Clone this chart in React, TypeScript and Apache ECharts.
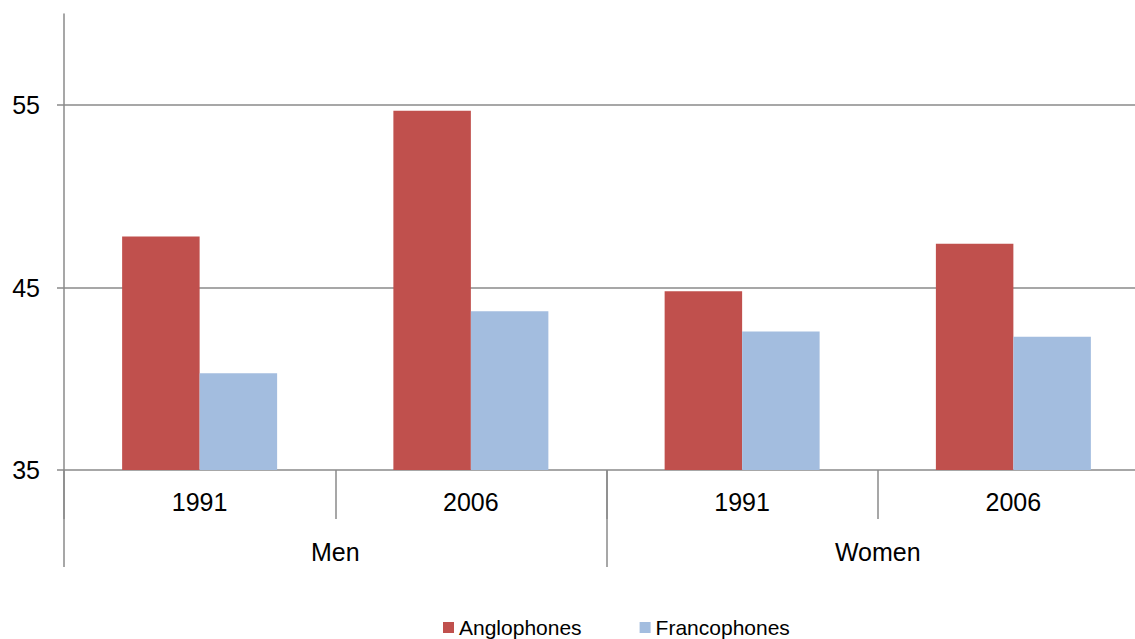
import React, { useEffect, useRef } from "react";
import * as echarts from "echarts";

const years = ["1991", "2006", "1991", "2006"];
const groups = ["Men", "Women"];
const seriesNames = ["Anglophones", "Francophones"];
const anglophones = [47.8, 54.7, 44.8, 47.4];
const francophones = [40.3, 43.7, 42.6, 42.3];
const yTicks = [35, 45, 55];
const gridValues = [45, 55];

const FONT = "'Liberation Sans', Arial, sans-serif";
const AXIS_GRAY = "#8a8a8a";

export default function App() {
  const ref = useRef<HTMLDivElement>(null);
  useEffect(() => {
    if (!ref.current) return;
    const chart = echarts.init(ref.current, undefined, { renderer: "svg" });
    chart.setOption({
      animation: false,
      textStyle: { fontFamily: FONT },
      grid: { left: 64, top: 14, width: 1085, height: 456, containLabel: false },
      legend: {
        data: seriesNames,
        left: 438,
        top: 612,
        icon: "rect",
        itemWidth: 11,
        itemHeight: 11,
        itemGap: 58,
        textStyle: { fontSize: 21, color: "#000", fontFamily: FONT },
      },
      xAxis: [
        {
          type: "category",
          data: years,
          position: "bottom",
          axisLine: { show: true, lineStyle: { color: AXIS_GRAY, width: 1.5 } },
          axisTick: { show: true, length: 49, lineStyle: { color: AXIS_GRAY, width: 1.5 } },
          axisLabel: { margin: 19, fontSize: 25, color: "#000", fontFamily: FONT, interval: 0 },
          splitLine: { show: false },
        },
        {
          type: "category",
          data: groups,
          position: "bottom",
          axisLine: { show: false },
          axisTick: { show: true, length: 97, lineStyle: { color: AXIS_GRAY, width: 1.5 } },
          axisLabel: { margin: 69, fontSize: 25, color: "#000", fontFamily: FONT, interval: 0 },
          splitLine: { show: false },
        },
      ],
      yAxis: {
        type: "value",
        min: 35,
        max: 60,
        interval: 10,
        axisLine: { show: true, lineStyle: { color: AXIS_GRAY, width: 1.5 } },
        axisTick: { show: true, length: 7, customValues: yTicks, lineStyle: { color: AXIS_GRAY, width: 1.5 } },
        axisLabel: { margin: 24, fontSize: 25, color: "#000", fontFamily: FONT, customValues: yTicks },
        splitLine: { show: false },
      },
      series: [
        {
          name: seriesNames[0],
          type: "bar",
          xAxisIndex: 0,
          data: anglophones,
          barGap: "0%",
          barCategoryGap: "42.86%",
          itemStyle: { color: "#C0504D" },
          markLine: {
            silent: true,
            symbol: "none",
            label: { show: false },
            lineStyle: { color: AXIS_GRAY, width: 1.5, type: "solid" },
            data: gridValues.map((v) => ({ yAxis: v })),
            z: 0,
          },
        },
        {
          name: seriesNames[1],
          type: "bar",
          xAxisIndex: 0,
          data: francophones,
          barGap: "0%",
          barCategoryGap: "42.86%",
          itemStyle: { color: "#A3BDDF" },
        },
      ],
    });
    return () => chart.dispose();
  }, []);
  return (
    <div
      style={{ position: "fixed", left: 0, top: 0, width: 1135, height: 639, overflow: "hidden", background: "#fff" }}
    >
      <div ref={ref} style={{ width: 1160, height: 639 }} />
    </div>
  );
}
